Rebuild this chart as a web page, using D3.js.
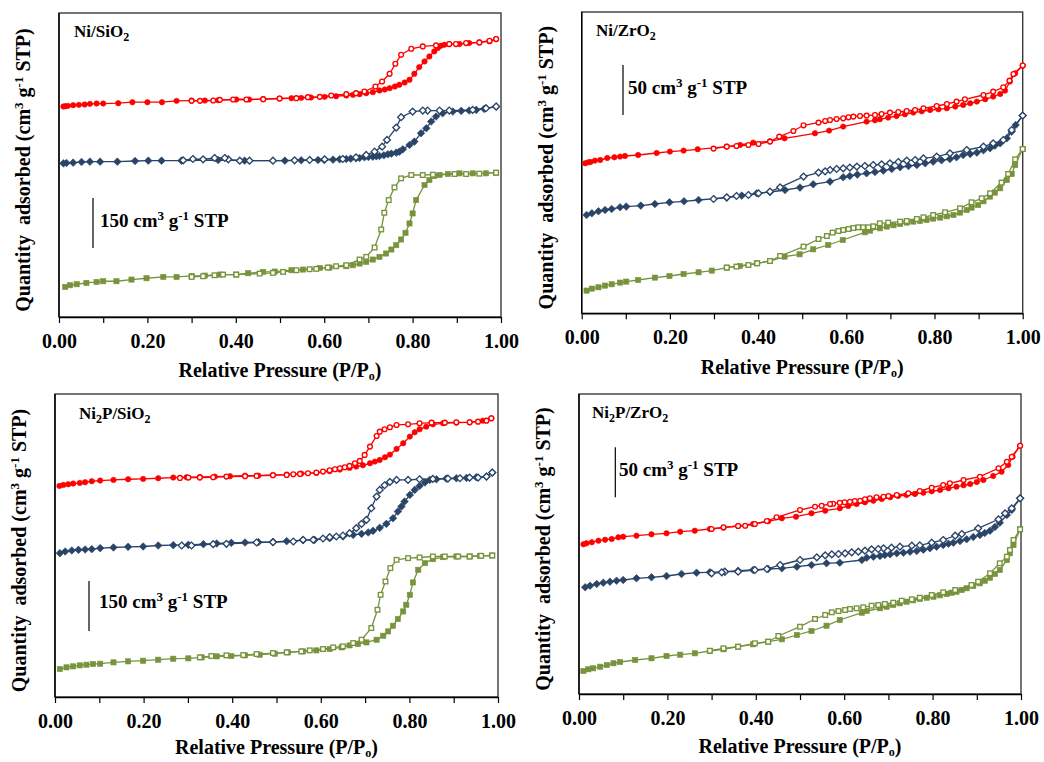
<!DOCTYPE html>
<html><head><meta charset="utf-8">
<script src="https://cdn.jsdelivr.net/npm/d3@7"></script>
<style>
body{margin:0;background:#fff}
svg{display:block}
text{font-family:"Liberation Serif","Times New Roman",serif;font-weight:bold;fill:#000}
</style>
</head><body>
<svg id="c" width="1044" height="762"></svg>
<script>
// ---------------- DATA (P/P0, quantity adsorbed cm3 g-1 STP, curves offset) ----------------
const xTicks = [0,0.1,0.2,0.3,0.4,0.5,0.6,0.7,0.8,0.9,1.0];
const xTickLabels = ["0.00","","0.20","","0.40","","0.60","","0.80","","1.00"];

// Ni/SiO2
const niSiO2_red_ads = [[0.010,630],[0.014,631],[0.020,632],[0.032,634],[0.045,635],[0.058,636],[0.070,638],[0.085,639],[0.100,639],[0.134,640],[0.166,643],[0.200,643],[0.233,643],[0.266,647],[0.300,648],[0.330,648],[0.360,649],[0.401,651],[0.430,651],[0.462,652],[0.499,654],[0.526,655],[0.548,656],[0.570,657],[0.601,659],[0.627,661],[0.650,663],[0.665,665],[0.680,667],[0.695,670],[0.710,673],[0.725,678],[0.737,681],[0.748,685],[0.760,690],[0.770,695],[0.782,702],[0.793,710],[0.804,728],[0.815,748],[0.827,765],[0.838,780],[0.849,795],[0.857,805],[0.864,812],[0.872,815],[0.883,817],[0.906,817],[0.928,820],[0.951,822],[0.974,825],[0.989,832]];
const niSiO2_red_des = [[0.989,832],[0.974,827],[0.951,822],[0.921,820],[0.898,817],[0.883,817],[0.853,813],[0.823,810],[0.797,803],[0.774,785],[0.761,758],[0.748,728],[0.731,705],[0.716,690],[0.691,675],[0.672,670],[0.650,667],[0.616,663],[0.590,659],[0.563,658],[0.537,655],[0.499,654],[0.462,652],[0.424,651],[0.394,651],[0.364,650],[0.349,648],[0.319,647],[0.300,647]];
const niSiO2_navy_ads = [[0.010,460],[0.017,461],[0.032,462],[0.051,464],[0.070,465],[0.093,465],[0.132,465],[0.172,467],[0.202,468],[0.232,468],[0.277,468],[0.360,470],[0.420,468],[0.511,468],[0.548,469],[0.586,470],[0.600,470],[0.620,471],[0.635,472],[0.650,473],[0.660,474],[0.672,475],[0.680,476],[0.691,478],[0.700,479],[0.710,480],[0.718,481],[0.725,482],[0.735,484],[0.744,487],[0.752,489],[0.763,492],[0.770,495],[0.778,502],[0.793,515],[0.804,525],[0.819,550],[0.831,565],[0.842,585],[0.853,600],[0.868,610],[0.891,615],[0.910,617],[0.928,618],[0.944,620],[0.962,623],[0.989,630]];
const niSiO2_navy_des = [[0.989,630],[0.966,625],[0.936,620],[0.883,618],[0.861,618],[0.834,618],[0.823,618],[0.800,615],[0.774,598],[0.763,567],[0.742,530],[0.731,510],[0.714,495],[0.695,485],[0.672,478],[0.642,473],[0.601,472],[0.567,470],[0.533,469],[0.484,468],[0.431,468],[0.409,468],[0.383,472],[0.375,476],[0.352,476],[0.326,472],[0.303,473],[0.281,469]];
const niSiO2_green_ads = [[0.014,90],[0.025,95],[0.040,98],[0.062,102],[0.085,105],[0.100,107],[0.130,107],[0.164,112],[0.198,116],[0.236,120],[0.266,120],[0.300,123],[0.330,124],[0.364,127],[0.401,127],[0.428,131],[0.462,135],[0.488,136],[0.526,140],[0.552,142],[0.590,147],[0.612,148],[0.650,152],[0.665,155],[0.680,160],[0.695,165],[0.710,172],[0.725,180],[0.740,190],[0.752,202],[0.763,215],[0.774,232],[0.784,252],[0.793,280],[0.800,310],[0.808,350],[0.827,395],[0.838,410],[0.849,422],[0.861,425],[0.880,428],[0.906,430],[0.936,430],[0.966,430],[0.989,432]];
const niSiO2_green_des = [[0.989,432],[0.951,429],[0.921,428],[0.895,428],[0.846,426],[0.823,425],[0.797,425],[0.774,415],[0.759,388],[0.746,350],[0.736,312],[0.729,262],[0.714,208],[0.695,180],[0.680,172],[0.650,155],[0.627,152],[0.608,148],[0.582,144],[0.567,143],[0.537,140],[0.507,135],[0.484,132],[0.454,130],[0.401,127],[0.371,127],[0.352,125],[0.326,122],[0.300,120]];

// Ni/ZrO2
const niZrO2_red_ads = [[0.008,150.0],[0.015,151.0],[0.020,151.3],[0.030,152.7],[0.042,153.3],[0.058,155.3],[0.074,156.0],[0.087,156.7],[0.098,157.3],[0.128,158.3],[0.170,160.3],[0.200,161.7],[0.231,162.7],[0.263,164.0],[0.329,166.7],[0.359,168.3],[0.389,170.7],[0.427,172.0],[0.460,175.0],[0.529,180.0],[0.561,182.7],[0.593,186.7],[0.646,191.7],[0.665,193.0],[0.676,194.0],[0.695,195.7],[0.714,197.3],[0.733,199.0],[0.752,200.7],[0.771,202.0],[0.790,203.3],[0.809,204.0],[0.828,205.0],[0.847,206.7],[0.865,208.3],[0.881,210.0],[0.896,211.7],[0.915,214.0],[0.933,216.7],[0.949,219.3],[0.960,222.7],[0.971,231.7],[0.983,240.0],[1.000,247.7]];
const niZrO2_red_des = [[1.000,247.7],[0.979,239.3],[0.970,232.7],[0.956,226.0],[0.933,221.7],[0.911,218.3],[0.869,214.0],[0.850,211.7],[0.828,209.3],[0.805,207.3],[0.775,205.0],[0.756,203.3],[0.737,202.3],[0.718,201.3],[0.699,200.7],[0.680,199.3],[0.665,198.3],[0.646,197.7],[0.631,197.3],[0.616,196.7],[0.605,196.0],[0.593,195.0],[0.578,194.3],[0.563,193.3],[0.552,192.3],[0.537,190.7],[0.503,188.0],[0.480,182.3],[0.448,176.7],[0.427,171.7],[0.401,169.3],[0.378,168.3],[0.351,167.3],[0.329,166.7],[0.299,164.7]];
const niZrO2_navy_ads = [[0.011,98.3],[0.023,100.0],[0.038,102.0],[0.053,103.3],[0.068,104.3],[0.087,106.0],[0.101,106.7],[0.134,107.7],[0.166,109.3],[0.199,111.0],[0.232,112.0],[0.265,113.3],[0.329,115.7],[0.363,117.7],[0.397,120.0],[0.427,121.3],[0.461,123.3],[0.495,125.7],[0.525,129.0],[0.563,131.7],[0.593,136.0],[0.608,137.3],[0.625,138.7],[0.646,140.0],[0.665,141.3],[0.684,142.7],[0.703,144.3],[0.722,146.0],[0.741,147.3],[0.760,148.3],[0.779,150.0],[0.797,151.7],[0.816,153.0],[0.835,154.3],[0.850,156.0],[0.865,158.3],[0.881,159.3],[0.896,160.7],[0.911,163.0],[0.926,165.0],[0.937,167.7],[0.949,170.0],[0.964,175.0],[0.975,181.7],[0.984,188.3],[1.000,197.7]];
const niZrO2_navy_des = [[1.000,197.7],[0.975,183.3],[0.956,173.3],[0.933,170.0],[0.911,166.7],[0.873,163.3],[0.835,160.0],[0.805,156.7],[0.775,155.0],[0.756,153.3],[0.737,152.7],[0.718,151.3],[0.699,150.0],[0.680,149.0],[0.661,148.3],[0.642,147.3],[0.624,146.7],[0.608,145.7],[0.593,145.0],[0.578,144.3],[0.563,143.3],[0.552,142.0],[0.537,140.7],[0.503,136.7],[0.450,126.0],[0.427,121.7],[0.401,120.0],[0.378,118.3],[0.351,117.3],[0.329,116.0],[0.299,114.3]];
const niZrO2_green_ads = [[0.011,22.7],[0.023,24.7],[0.038,26.0],[0.053,27.7],[0.068,29.0],[0.087,30.7],[0.101,31.7],[0.128,33.3],[0.166,35.7],[0.199,37.3],[0.231,39.3],[0.265,41.0],[0.295,42.7],[0.329,45.7],[0.359,47.3],[0.397,50.0],[0.427,52.3],[0.460,56.7],[0.494,59.0],[0.525,64.0],[0.559,68.3],[0.592,73.3],[0.642,81.0],[0.654,82.7],[0.676,85.0],[0.692,86.7],[0.707,88.0],[0.722,89.3],[0.737,90.7],[0.752,91.7],[0.767,92.3],[0.782,93.3],[0.797,94.7],[0.813,95.7],[0.828,97.0],[0.843,98.3],[0.858,100.7],[0.873,103.3],[0.884,105.7],[0.899,108.3],[0.911,112.0],[0.926,116.7],[0.937,120.7],[0.949,125.0],[0.964,133.3],[0.975,139.3],[0.983,148.3],[1.000,164.3]];
const niZrO2_green_des = [[1.000,164.3],[0.983,154.0],[0.967,139.3],[0.952,130.7],[0.926,120.0],[0.907,115.0],[0.884,111.0],[0.858,105.0],[0.824,101.0],[0.797,98.3],[0.775,96.0],[0.760,94.3],[0.737,92.3],[0.722,91.7],[0.695,90.7],[0.676,90.0],[0.661,87.0],[0.650,86.0],[0.638,86.0],[0.627,86.0],[0.616,85.3],[0.605,84.3],[0.593,83.3],[0.582,82.3],[0.569,80.7],[0.556,77.3],[0.537,74.3],[0.503,66.7],[0.450,57.3],[0.427,52.3],[0.398,50.0],[0.378,48.3],[0.351,46.7],[0.329,45.7]];

// Ni2P/SiO2
const ni2pSiO2_red_ads = [[0.010,634],[0.019,637],[0.030,639],[0.041,641],[0.056,643],[0.068,645],[0.083,648],[0.102,650],[0.132,652],[0.165,654],[0.199,655],[0.233,657],[0.267,659],[0.297,660],[0.327,661],[0.361,662],[0.395,663],[0.429,665],[0.459,665],[0.492,667],[0.523,668],[0.556,671],[0.590,673],[0.620,678],[0.643,683],[0.665,688],[0.680,692],[0.695,696],[0.711,702],[0.722,707],[0.733,712],[0.745,720],[0.756,728],[0.771,745],[0.786,762],[0.801,782],[0.812,795],[0.823,804],[0.838,812],[0.853,819],[0.876,822],[0.906,824],[0.936,825],[0.966,830],[0.985,837]];
const ni2pSiO2_red_des = [[0.985,837],[0.974,830],[0.955,827],[0.936,825],[0.906,825],[0.880,824],[0.850,824],[0.823,822],[0.797,819],[0.771,817],[0.756,810],[0.744,804],[0.733,797],[0.726,784],[0.711,752],[0.699,727],[0.688,709],[0.677,702],[0.665,694],[0.654,690],[0.643,687],[0.632,684],[0.620,681],[0.605,677],[0.590,674],[0.571,672],[0.553,670],[0.538,669],[0.523,667],[0.492,666],[0.455,664],[0.429,663],[0.387,662],[0.357,660],[0.327,659],[0.301,659],[0.282,658]];
const ni2pSiO2_navy_ads = [[0.011,432],[0.023,437],[0.038,440],[0.053,442],[0.068,443],[0.083,444],[0.102,447],[0.132,449],[0.165,451],[0.199,452],[0.233,455],[0.267,456],[0.301,457],[0.335,459],[0.365,461],[0.398,463],[0.429,464],[0.459,465],[0.492,466],[0.523,468],[0.560,471],[0.586,472],[0.620,477],[0.650,482],[0.673,487],[0.692,490],[0.707,494],[0.718,499],[0.733,508],[0.748,520],[0.763,537],[0.774,557],[0.782,572],[0.789,587],[0.801,607],[0.812,622],[0.823,634],[0.835,644],[0.846,652],[0.861,654],[0.883,656],[0.906,657],[0.929,658],[0.951,660],[0.974,662],[0.987,674]];
const ni2pSiO2_navy_des = [[0.987,674],[0.974,662],[0.955,659],[0.936,659],[0.914,657],[0.887,656],[0.853,655],[0.823,654],[0.797,652],[0.771,652],[0.756,646],[0.744,636],[0.733,622],[0.726,602],[0.714,567],[0.703,532],[0.692,520],[0.680,507],[0.665,492],[0.650,485],[0.635,482],[0.620,480],[0.605,476],[0.583,472],[0.560,472],[0.538,467],[0.492,465],[0.455,464],[0.387,460],[0.357,459],[0.308,455],[0.286,455]];
const ni2pSiO2_green_ads = [[0.011,84],[0.026,89],[0.041,92],[0.056,95],[0.071,97],[0.086,99],[0.102,100],[0.132,104],[0.165,107],[0.199,109],[0.233,112],[0.267,115],[0.301,116],[0.331,119],[0.365,122],[0.398,123],[0.429,125],[0.462,127],[0.496,130],[0.526,134],[0.560,137],[0.590,140],[0.620,144],[0.647,149],[0.665,155],[0.684,159],[0.703,164],[0.726,172],[0.741,184],[0.752,197],[0.763,214],[0.774,234],[0.786,257],[0.793,277],[0.801,307],[0.808,344],[0.820,382],[0.835,402],[0.853,414],[0.876,420],[0.906,422],[0.936,422],[0.959,424],[0.987,425]];
const ni2pSiO2_green_des = [[0.987,425],[0.962,424],[0.936,422],[0.910,422],[0.880,422],[0.853,422],[0.823,419],[0.797,417],[0.771,412],[0.757,387],[0.746,347],[0.735,307],[0.728,262],[0.714,207],[0.692,172],[0.673,162],[0.650,152],[0.628,149],[0.605,144],[0.575,140],[0.556,137],[0.523,134],[0.492,132],[0.455,129],[0.425,126],[0.387,125],[0.353,123],[0.327,119]];

// Ni2P/ZrO2
const ni2pZrO2_red_ads = [[0.010,149.7],[0.017,150.7],[0.029,151.7],[0.044,153.3],[0.059,154.3],[0.074,155.0],[0.089,156.7],[0.100,157.3],[0.130,158.3],[0.164,159.7],[0.198,160.7],[0.229,162.3],[0.262,163.3],[0.296,165.0],[0.327,166.3],[0.360,168.0],[0.394,170.0],[0.428,172.7],[0.459,175.7],[0.491,177.3],[0.526,180.7],[0.557,183.3],[0.590,185.7],[0.609,188.0],[0.628,190.0],[0.647,191.7],[0.666,193.3],[0.685,195.0],[0.704,196.7],[0.722,198.0],[0.741,199.0],[0.760,200.0],[0.779,201.3],[0.798,202.7],[0.817,204.0],[0.836,205.7],[0.854,207.3],[0.870,208.7],[0.885,210.0],[0.900,212.0],[0.915,214.0],[0.937,218.0],[0.956,222.3],[0.971,229.0],[0.981,237.3],[0.998,248.3]];
const ni2pZrO2_red_des = [[0.998,248.3],[0.979,237.3],[0.968,232.3],[0.949,225.7],[0.907,217.3],[0.870,214.0],[0.839,210.7],[0.824,209.0],[0.798,206.3],[0.771,203.0],[0.745,200.7],[0.719,199.0],[0.700,198.0],[0.689,197.3],[0.673,196.7],[0.658,195.7],[0.647,194.7],[0.636,193.3],[0.624,193.0],[0.613,192.3],[0.601,191.7],[0.590,191.3],[0.575,190.3],[0.568,190.0],[0.549,188.3],[0.534,187.3],[0.500,184.0],[0.447,176.7],[0.425,173.0],[0.398,170.0],[0.376,168.3],[0.360,168.0],[0.327,166.7],[0.300,165.0]];
const ni2pZrO2_navy_ads = [[0.014,106.7],[0.025,108.3],[0.040,110.0],[0.055,111.3],[0.070,112.3],[0.085,113.3],[0.100,114.0],[0.130,115.7],[0.164,116.7],[0.198,118.0],[0.232,120.0],[0.266,121.3],[0.296,121.7],[0.330,122.3],[0.360,123.3],[0.394,124.0],[0.428,125.0],[0.459,125.7],[0.493,127.3],[0.526,129.0],[0.560,130.7],[0.590,131.3],[0.640,134.0],[0.651,136.3],[0.666,137.3],[0.681,138.0],[0.692,139.0],[0.704,139.7],[0.719,140.7],[0.734,141.3],[0.749,142.3],[0.764,143.0],[0.779,144.3],[0.794,145.7],[0.809,147.3],[0.824,149.0],[0.836,150.3],[0.847,151.3],[0.862,153.0],[0.877,154.7],[0.892,157.0],[0.907,159.0],[0.918,161.0],[0.930,163.3],[0.941,167.0],[0.952,171.3],[0.968,179.0],[0.979,184.0],[0.998,195.7]];
const ni2pZrO2_navy_des = [[0.998,195.7],[0.979,185.7],[0.964,180.7],[0.949,174.7],[0.903,165.7],[0.866,160.0],[0.851,158.3],[0.824,154.0],[0.798,151.3],[0.771,148.7],[0.753,148.3],[0.726,147.3],[0.707,146.3],[0.689,145.7],[0.677,145.0],[0.662,144.7],[0.647,143.3],[0.632,142.3],[0.617,141.7],[0.602,140.7],[0.587,140.0],[0.572,139.7],[0.557,138.7],[0.538,136.7],[0.500,134.0],[0.455,129.0],[0.425,125.0],[0.398,124.0],[0.360,122.3],[0.330,122.3],[0.323,121.7],[0.300,120.7]];
const ni2pZrO2_green_ads = [[0.010,23.0],[0.021,24.7],[0.032,25.7],[0.048,27.3],[0.063,29.0],[0.078,30.7],[0.093,32.0],[0.127,34.0],[0.164,35.7],[0.198,38.0],[0.229,39.3],[0.262,40.7],[0.296,43.0],[0.327,44.7],[0.360,47.3],[0.394,49.7],[0.428,52.3],[0.459,54.7],[0.493,59.0],[0.526,63.0],[0.560,68.3],[0.590,74.0],[0.640,81.3],[0.651,83.0],[0.681,85.7],[0.696,87.3],[0.711,89.0],[0.726,90.7],[0.741,92.3],[0.756,93.7],[0.771,95.0],[0.787,96.3],[0.802,97.3],[0.817,98.7],[0.832,100.0],[0.843,101.3],[0.854,102.3],[0.866,104.0],[0.877,105.7],[0.892,108.0],[0.907,110.7],[0.918,113.3],[0.930,116.3],[0.941,120.0],[0.952,124.0],[0.968,134.0],[0.975,140.7],[0.983,149.0],[0.998,164.7]];
const ni2pZrO2_green_des = [[0.998,164.7],[0.983,154.0],[0.975,144.0],[0.968,137.3],[0.952,130.7],[0.930,120.7],[0.903,112.3],[0.888,109.0],[0.851,104.0],[0.824,101.7],[0.798,99.0],[0.771,96.3],[0.753,94.7],[0.730,93.3],[0.711,91.3],[0.692,90.0],[0.677,89.0],[0.662,88.3],[0.643,86.7],[0.628,85.7],[0.613,85.0],[0.602,84.0],[0.587,83.0],[0.572,81.7],[0.557,79.0],[0.534,75.0],[0.500,67.3],[0.451,58.0],[0.428,52.3],[0.398,50.7],[0.360,47.3],[0.327,45.7],[0.296,43.3]];

const panelNames = [[["Ni/SiO","n"],["2","sub"]],[["Ni/ZrO","n"],["2","sub"]],[["Ni","n"],["2","sub"],["P/SiO","n"],["2","sub"]],[["Ni","n"],["2","sub"],["P/ZrO","n"],["2","sub"]]];
const scaleBarValues = [150, 50, 150, 50];
const yMaxValues = [910, 301.3, 910, 300];

// ---------------- LAYOUT ----------------
const colors = {red:"#FF0000", navy:"#2A4468", green:"#77933C"};
const layout = [
  {box:[59,13,501,317],   label:[74,37],  bar:[93,198],   barText:[100,227],   xTitleDy:60},
  {box:[581.7,12,1022.7,313.3], label:[596,36], bar:[623,65], barText:[628,94], xTitleDy:61},
  {box:[55,394,498,697],  label:[79,419], bar:[89,581],   barText:[99,607.5],  xTitleDy:57},
  {box:[579,394,1021,694], label:[592,418], bar:[615.3,447.3], barText:[619,475.5], xTitleDy:59}
];
const seriesSets = [
  [["red",niSiO2_red_ads,niSiO2_red_des],["navy",niSiO2_navy_ads,niSiO2_navy_des],["green",niSiO2_green_ads,niSiO2_green_des]],
  [["red",niZrO2_red_ads,niZrO2_red_des],["navy",niZrO2_navy_ads,niZrO2_navy_des],["green",niZrO2_green_ads,niZrO2_green_des]],
  [["red",ni2pSiO2_red_ads,ni2pSiO2_red_des],["navy",ni2pSiO2_navy_ads,ni2pSiO2_navy_des],["green",ni2pSiO2_green_ads,ni2pSiO2_green_des]],
  [["red",ni2pZrO2_red_ads,ni2pZrO2_red_des],["navy",ni2pZrO2_navy_ads,ni2pZrO2_navy_des],["green",ni2pZrO2_green_ads,ni2pZrO2_green_des]]
];
const shapeOf = {red:"circle", navy:"diamond", green:"square"};

const svg = d3.select("#c");

function rich(sel, parts, big, small, supShift, subShift){
  let cur = 0;
  parts.forEach(([t,k])=>{
    const target = k==="sub"? subShift : (k==="sup"? -supShift : 0);
    sel.append("tspan").attr("dy", target-cur).attr("font-size", k==="n"?big:small).text(t);
    cur = target;
  });
}

function drawMarkers(g, data, xs, ys, color, shape, filled){
  const sel = g.selectAll(null).data(data).enter();
  const fill = filled ? color : "#fff";
  const sw = filled ? 0.6 : 1.35;
  if(shape==="circle"){
    sel.append("circle").attr("cx",d=>xs(d[0])).attr("cy",d=>ys(d[1]))
      .attr("r", filled?2.7:2.4).attr("fill",fill).attr("stroke",color).attr("stroke-width",sw);
  } else if(shape==="square"){
    const s = filled?5.2:4.6;
    sel.append("rect").attr("x",d=>xs(d[0])-s/2).attr("y",d=>ys(d[1])-s/2)
      .attr("width",s).attr("height",s).attr("fill",fill).attr("stroke",color).attr("stroke-width",sw);
  } else {
    const r = filled?3.8:3.4;
    sel.append("path").attr("d",`M0,${-r}L${r},0L0,${r}L${-r},0Z`)
      .attr("transform",d=>`translate(${xs(d[0])},${ys(d[1])})`)
      .attr("fill",fill).attr("stroke",color).attr("stroke-width",sw);
  }
}

layout.forEach((L,i)=>{
  const [x0,y0,x1,y1] = L.box;
  const xs = d3.scaleLinear().domain([0,1]).range([x0,x1]);
  const ys = d3.scaleLinear().domain([0,yMaxValues[i]]).range([y1,y0]);
  const g = svg.append("g");

  // frame
  g.append("rect").attr("x",x0).attr("y",y0).attr("width",x1-x0).attr("height",y1-y0)
    .attr("fill","none").attr("stroke","#3a3a3a").attr("stroke-width",1.4);

  // x axis
  const ax = g.append("g").attr("transform",`translate(0,${y1})`)
    .call(d3.axisBottom(xs).tickValues(xTicks).tickFormat((d,j)=>xTickLabels[j]).tickSize(6).tickSizeOuter(0));
  ax.select(".domain").attr("stroke","#000").attr("stroke-width",1.4);
  ax.selectAll(".tick line").attr("stroke","#000").attr("stroke-width",1.2);
  ax.selectAll(".tick text").attr("y",31).attr("dy",null)
    .style("font-family",'"Liberation Serif",serif').style("font-weight","bold").style("font-size","20px").attr("fill","#000");
  // left axis line
  g.append("line").attr("x1",x0).attr("x2",x0).attr("y1",y0).attr("y2",y1).attr("stroke","#000").attr("stroke-width",1.4);

  // x title
  const xt = g.append("text").attr("x",(x0+x1)/2).attr("y",y1+L.xTitleDy).attr("text-anchor","middle");
  rich(xt, [["Relative Pressure (P/P","n"],["o","sub"],[")","n"]], 20, 12, 7, 3);

  // y title
  const yt = g.append("text").attr("text-anchor","middle")
    .attr("transform",`translate(${x0-29},${(y0+y1)/2+5}) rotate(-90)`);
  rich(yt, [["Quantity\u00A0 adsorbed (cm","n"],["3","sup"],[" g","n"],["-1","sup"],[" STP)","n"]], 20, 13, 7, 4);

  // panel name
  const pn = g.append("text").attr("x",L.label[0]).attr("y",L.label[1]);
  rich(pn, panelNames[i], 17, 12, 6, 4);

  // scale bar
  const bx = L.bar[0], bt = L.bar[1];
  const blen = ys(0) - ys(scaleBarValues[i]);
  g.append("line").attr("x1",bx).attr("x2",bx).attr("y1",bt).attr("y2",bt+blen).attr("stroke","#000").attr("stroke-width",1.2);
  const bt2 = g.append("text").attr("x",L.barText[0]).attr("y",L.barText[1]);
  rich(bt2, [[scaleBarValues[i]+" cm","n"],["3","sup"],[" g","n"],["-1","sup"],[" STP","n"]], 19, 13, 7, 4);

  // series
  const line = d3.line().x(d=>xs(d[0])).y(d=>ys(d[1]));
  seriesSets[i].forEach(([c,ads,des])=>{
    const sg = g.append("g");
    sg.append("path").attr("d",line(ads)).attr("fill","none").attr("stroke",colors[c]).attr("stroke-width",1.3);
    sg.append("path").attr("d",line(des)).attr("fill","none").attr("stroke",colors[c]).attr("stroke-width",1.3);
    drawMarkers(sg, ads, xs, ys, colors[c], shapeOf[c], true);
    drawMarkers(sg, des, xs, ys, colors[c], shapeOf[c], false);
  });
});
</script>
</body></html>
